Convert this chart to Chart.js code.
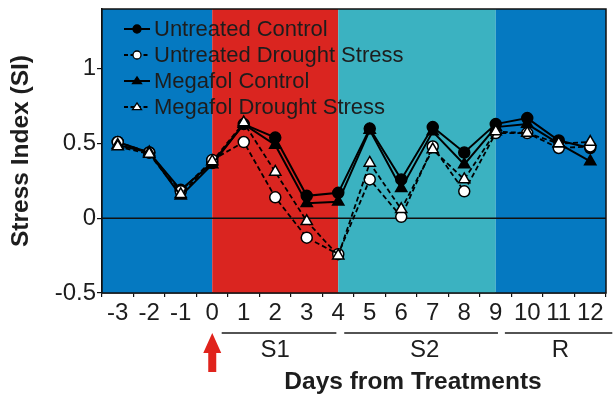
<!DOCTYPE html>
<html>
<head>
<meta charset="utf-8">
<script src="https://cdn.jsdelivr.net/npm/chart.js@4/dist/chart.umd.min.js"></script>
<style>
  html, body { margin: 0; padding: 0; background: #ffffff; }
  #wrap { width: 614px; height: 395px; }
</style>
</head>
<body>
<div id="wrap"><canvas id="c" width="614" height="395"></canvas></div>
<script>
// Days relative to treatment
const days = ['-3','-2','-1','0','1','2','3','4','5','6','7','8','9','10','11','12'];

// Stress index per treatment
const untreatedControl = [0.51, 0.44, 0.19, 0.37, 0.63, 0.54, 0.15, 0.17, 0.60, 0.26, 0.61, 0.44, 0.63, 0.67, 0.52, 0.47];
const untreatedDrought = [0.51, 0.44, 0.18, 0.39, 0.51, 0.14, -0.13, -0.24, 0.26, 0.01, 0.48, 0.18, 0.57, 0.57, 0.47, 0.48];
const megafolControl   = [0.49, 0.44, 0.15, 0.36, 0.63, 0.49, 0.10, 0.11, 0.59, 0.20, 0.58, 0.36, 0.61, 0.63, 0.50, 0.38];
const megafolDrought   = [0.48, 0.43, 0.16, 0.38, 0.64, 0.31, -0.02, -0.25, 0.37, 0.06, 0.46, 0.26, 0.58, 0.57, 0.50, 0.51];

// Y axis ticks
const yTicks = [-0.5, 0, 0.5, 1];

// Phase boundaries (in days) and phase labels under the axis
const phaseEdges = [0, 4, 9];
const phaseNames = ['S1', 'S2', 'R'];
const phaseSpans = [[0.3, 3.94], [4.19, 9.07], [9.29, 12.7]];
const phaseCenters = [2, 6.74, 11.05];

const FONT = '"Liberation Sans", Arial, Helvetica, sans-serif';
const INK = '#1d1d1d';
const BLUE = '#0579c1';
const RED = '#da2520';
const CYAN = '#3bb2c1';

const seriesStyle = [
  { label: 'Untreated Control',        data: untreatedControl, dash: [],     shape: 'circle',   fill: '#000000', order: 3 },
  { label: 'Untreated Drought Stress', data: untreatedDrought, dash: [5, 3], shape: 'circle',   fill: '#ffffff', order: 2 },
  { label: 'Megafol Control',          data: megafolControl,   dash: [],     shape: 'triangle', fill: '#000000', order: 1 },
  { label: 'Megafol Drought Stress',   data: megafolDrought,   dash: [5, 3], shape: 'triangle', fill: '#ffffff', order: 0 }
];

const datasets = seriesStyle.map(s => ({
  label: s.label,
  data: s.data,
  order: s.order,
  borderColor: '#000000',
  borderWidth: s.dash.length ? 1.8 : 2,
  borderDash: s.dash,
  tension: 0,
  pointStyle: s.shape,
  pointRadius: s.shape === 'triangle' ? 6.5 : 5.5,
  pointBackgroundColor: s.fill,
  pointBorderColor: '#000000',
  pointBorderWidth: 1.5,
  pointHoverRadius: 6
}));

// category index of a (possibly fractional) day
function dayPx(xScale, d) {
  return xScale.getPixelForValue(d - Number(days[0]));
}

function pointMarker(ctx, shape, fill, x, y, r) {
  ctx.save();
  ctx.setLineDash([]);
  ctx.fillStyle = fill;
  ctx.strokeStyle = '#000000';
  ctx.lineWidth = 1.3;
  ctx.beginPath();
  if (shape === 'circle') {
    ctx.arc(x, y, r, 0, Math.PI * 2);
  } else {
    const h = r * 1.5;
    ctx.moveTo(x, y - h * 0.62);
    ctx.lineTo(x + r, y + h * 0.38);
    ctx.lineTo(x - r, y + h * 0.38);
    ctx.closePath();
  }
  ctx.fill();
  ctx.stroke();
  ctx.restore();
}

const decor = {
  id: 'decor',
  beforeDatasetsDraw(chart) {
    const { ctx, chartArea: a, scales: { x, y } } = chart;
    const e0 = dayPx(x, phaseEdges[0]);
    const e1 = dayPx(x, phaseEdges[1]);
    const e2 = dayPx(x, phaseEdges[2]);
    ctx.save();
    ctx.fillStyle = BLUE;  ctx.fillRect(a.left, a.top, e0 - a.left, a.bottom - a.top);
    ctx.fillStyle = RED;   ctx.fillRect(e0, a.top, e1 - e0, a.bottom - a.top);
    ctx.fillStyle = CYAN;  ctx.fillRect(e1, a.top, e2 - e1, a.bottom - a.top);
    ctx.fillStyle = BLUE;  ctx.fillRect(e2, a.top, a.right - e2, a.bottom - a.top);
    // zero reference line
    const y0 = y.getPixelForValue(0);
    ctx.strokeStyle = '#111111';
    ctx.lineWidth = 1.5;
    ctx.beginPath();
    ctx.moveTo(a.left, y0);
    ctx.lineTo(a.right, y0);
    ctx.stroke();
    ctx.restore();
  },
  afterDraw(chart) {
    const { ctx, chartArea: a, scales: { x } } = chart;
    ctx.save();
    // plot frame
    ctx.strokeStyle = '#111111';
    ctx.lineWidth = 1.5;
    ctx.strokeRect(a.left, a.top, a.right - a.left, a.bottom - a.top);

    // legend
    const rows = [29, 55, 81, 107];
    seriesStyle.forEach((s, i) => {
      const yy = rows[i];
      ctx.strokeStyle = '#000000';
      ctx.lineWidth = 2;
      ctx.setLineDash(s.dash.length ? [4, 2.5] : []);
      ctx.beginPath();
      ctx.moveTo(124, yy);
      ctx.lineTo(150, yy);
      ctx.stroke();
      pointMarker(ctx, s.shape, s.fill, 137, yy, s.shape === 'triangle' ? 4.5 : 4);
      ctx.fillStyle = INK;
      ctx.font = '22px ' + FONT;
      ctx.textAlign = 'left';
      ctx.textBaseline = 'middle';
      ctx.fillText(s.label, 154, yy + 1);
    });

    // phase bars and names under the day axis
    ctx.setLineDash([]);
    ctx.strokeStyle = '#1a1a1a';
    ctx.lineWidth = 1.5;
    ctx.font = '24px ' + FONT;
    ctx.fillStyle = INK;
    ctx.textAlign = 'center';
    ctx.textBaseline = 'alphabetic';
    phaseSpans.forEach((sp, i) => {
      ctx.beginPath();
      ctx.moveTo(dayPx(x, sp[0]), 333);
      ctx.lineTo(Math.min(dayPx(x, sp[1]), 614), 333);
      ctx.stroke();
      ctx.fillText(phaseNames[i], dayPx(x, phaseCenters[i]), 357);
    });

    // treatment arrow at day 0
    const ax = dayPx(x, phaseEdges[0]);
    ctx.fillStyle = '#e0231c';
    ctx.beginPath();
    ctx.moveTo(ax, 333);
    ctx.lineTo(ax + 9, 353);
    ctx.lineTo(ax + 4, 353);
    ctx.lineTo(ax + 4, 372);
    ctx.lineTo(ax - 4, 372);
    ctx.lineTo(ax - 4, 353);
    ctx.lineTo(ax - 9, 353);
    ctx.closePath();
    ctx.fill();

    // axis titles
    ctx.fillStyle = INK;
    ctx.font = 'bold 24.5px ' + FONT;
    ctx.textAlign = 'center';
    ctx.textBaseline = 'middle';
    ctx.fillText('Days from Treatments', 413, 382);
    ctx.translate(21, 151);
    ctx.rotate(-Math.PI / 2);
    ctx.fillText('Stress Index (SI)', 0, 0);
    ctx.restore();
  }
};

new Chart(document.getElementById('c'), {
  type: 'line',
  data: { labels: days, datasets },
  options: {
    responsive: false,
    animation: false,
    devicePixelRatio: 1,
    layout: { padding: { top: 9, right: 3, left: 0, bottom: 0 } },
    plugins: {
      legend: { display: false },
      tooltip: { enabled: false },
      title: { display: false }
    },
    scales: {
      x: {
        type: 'category',
        offset: true,
        grid: {
          offset: true,
          drawOnChartArea: false,
          drawTicks: true,
          tickLength: 4,
          color: '#111111',
          lineWidth: 1.2
        },
        border: { display: true, color: '#111111', width: 1.5 },
        ticks: {
          color: INK,
          padding: 2,
          maxRotation: 0,
          autoSkip: false,
          font: { family: FONT, size: 24 }
        },
        afterFit(scale) {
          scale.height = 102;
          scale.paddingLeft = 0;
          scale.paddingRight = 0;
        }
      },
      y: {
        min: -0.5,
        max: 1.4,
        afterBuildTicks(scale) { scale.ticks = yTicks.map(v => ({ value: v })); },
        grid: {
          drawOnChartArea: false,
          drawTicks: true,
          tickLength: 5,
          color: '#111111',
          lineWidth: 1.2
        },
        border: { display: true, color: '#111111', width: 1.5 },
        ticks: {
          color: INK,
          padding: 1,
          font: { family: FONT, size: 24 },
          callback: v => String(v)
        },
        afterFit(scale) {
          scale.width = 102;
          scale.paddingTop = 0;
          scale.paddingBottom = 0;
        }
      }
    }
  },
  plugins: [decor]
});
</script>
</body>
</html>
